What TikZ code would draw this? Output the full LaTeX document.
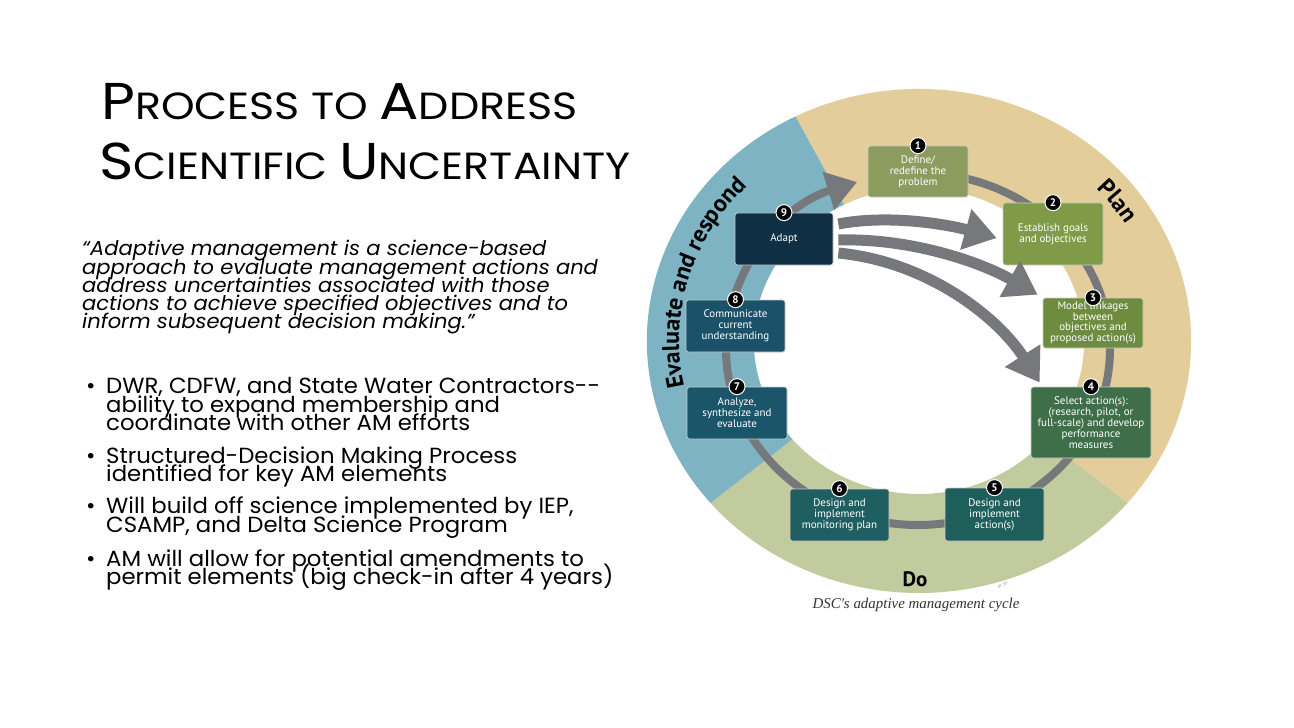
\documentclass[tikz,border=0pt]{standalone}
\usepackage{fontspec}
\setmainfont{Poppins}[FakeStretch=1.04]
\newfontfamily\titlefont{Poppins}[FakeStretch=1.13]
\newfontfamily\boxfont{PT Sans}
\newfontfamily\capfont{Liberation Serif}
\usetikzlibrary{arrows.meta,decorations.text}

\definecolor{plantan}{HTML}{E3CE9B}
\definecolor{evalblue}{HTML}{7DB3C3}
\definecolor{dogreen}{HTML}{C2CB9D}
\definecolor{ringgray}{HTML}{77787B}
\definecolor{boxa}{HTML}{8C9B5E}
\definecolor{boxb}{HTML}{7F9B48}
\definecolor{boxc}{HTML}{6E8C3F}
\definecolor{boxd}{HTML}{3E6F49}
\definecolor{boxe}{HTML}{1F5F5B}
\definecolor{boxf}{HTML}{1F5E61}
\definecolor{boxg}{HTML}{1A5569}
\definecolor{boxh}{HTML}{1B526A}
\definecolor{boxi}{HTML}{0E2F44}

\newcommand\scword[2]{{\fontsize{52}{52}\selectfont #1}{\fontsize{38}{38}\selectfont #2}}
\newcommand\ringlabel{\boxfont\bfseries\fontsize{24}{24}\selectfont}

\tikzset{
  stepbox/.style={draw=white!80!black, line width=0.7bp, rounded corners=2.5bp, text=white,
    align=center, inner sep=0pt, font=\boxfont\fontsize{11}{11}\selectfont},
  badge/.style={circle, fill=black, draw=white, line width=1bp, minimum size=16bp, inner sep=0pt,
    text=white, font=\boxfont\bfseries\fontsize{11}{11}\selectfont},
  ringline/.style={draw=ringgray, line width=8bp, -{Triangle[length=30bp,width=38bp]}},
  bigarrow/.style={draw=ringgray, line width=11bp, -{Triangle[length=32bp,width=40bp]}},
  bodyline/.style={anchor=base west, inner sep=0pt, font=\fontsize{22}{22}\selectfont},
  quoteline/.style={anchor=base west, inner sep=0pt, font=\itshape\fontsize{20.3}{20.3}\selectfont},
  titleline/.style={anchor=base west, inner sep=0pt, font=\titlefont\fontsize{38}{38}\selectfont},
}

\begin{document}
\begin{tikzpicture}[x=1bp, y=1bp]
  \useasboundingbox[fill=white] (0,0) rectangle (1294,-728);

  % title and text
  \node[titleline] (title1) at (101,-120) {\scword{P}{ROCESS} \scword{}{TO} \scword{A}{DDRESS}};
  \node[titleline] (title2) at (99,-180) {\scword{S}{CIENTIFIC} \scword{U}{NCERTAINTY}};

  \node[quoteline] (q1) at (82,-256) {“Adaptive management is a science-based};
  \node[quoteline] (q2) at (82,-274) {approach to evaluate management actions and};
  \node[quoteline] (q3) at (82,-292) {address uncertainties associated with those};
  \node[quoteline] (q4) at (82,-310) {actions to achieve specified objectives and to};
  \node[quoteline] (q5) at (82,-328) {inform subsequent decision making.”};

  \node[bodyline] (d1) at (86,-393) {•};
  \node[bodyline] (p1a) at (106,-393) {DWR, CDFW, and State Water Contractors-{}-};
  \node[bodyline] (p1b) at (106,-412) {ability to expand membership and};
  \node[bodyline] (p1c) at (106,-430) {coordinate with other AM efforts};
  \node[bodyline] (d2) at (86,-463) {•};
  \node[bodyline] (p2a) at (106,-463) {Structured-Decision Making Process};
  \node[bodyline] (p2b) at (106,-481) {identified for key AM elements};
  \node[bodyline] (d3) at (86,-513) {•};
  \node[bodyline] (p3a) at (106,-513) {Will build off science implemented by IEP,};
  \node[bodyline] (p3b) at (106,-532) {CSAMP, and Delta Science Program};
  \node[bodyline] (d4) at (86,-566) {•};
  \node[bodyline] (p4a) at (106,-566) {AM will allow for potential amendments to};
  \node[bodyline] (p4b) at (106,-584) {permit elements (big check-in after 4 years)};

  % ring of the cycle
  \begin{scope}[shift={(919,-341)}, xscale=1.08]
    \fill[plantan] (117:252) arc[start angle=117, end angle=-40, radius=252]
      -- (-40:153) arc[start angle=-40, end angle=117, radius=153] -- cycle;
    \fill[dogreen] (-40:252) arc[start angle=-40, end angle=-140, radius=252]
      -- (-140:153) arc[start angle=-140, end angle=-40, radius=153] -- cycle;
    \fill[evalblue] (220:252) arc[start angle=220, end angle=117, radius=252]
      -- (117:153) arc[start angle=117, end angle=220, radius=153] -- cycle;
  \end{scope}
  \draw[ringline] (918,-349) ++(90:192 and 176) arc[start angle=90, end angle=-251.5, x radius=192, y radius=176];

  % steps
  \node[stepbox, fill=boxa, minimum width=100bp, minimum height=51bp] (define) at (918,-171.5) {Define/\\redefine the\\problem};
  \node[stepbox, fill=boxb, minimum width=100bp, minimum height=62bp] (goals) at (1053,-234) {Establish goals\\and objectives};
  \node[stepbox, fill=boxc, minimum width=100bp, minimum height=50bp, font=\boxfont\fontsize{11}{10}\selectfont] (model) at (1093,-323) {Model linkages\\between\\objectives and\\proposed action(s)};
  \node[stepbox, fill=boxd, minimum width=120bp, minimum height=71bp] (select) at (1091,-422.5) {Select action(s):\\(research, pilot, or\\full-scale) and develop\\performance\\measures};
  \node[stepbox, fill=boxe, minimum width=99bp, minimum height=53bp] (act) at (994.5,-514.5) {Design and\\implement\\action(s)};
  \node[stepbox, fill=boxf, minimum width=99bp, minimum height=52bp] (monitor) at (839.5,-515) {Design and\\implement\\monitoring plan};
  \node[stepbox, fill=boxg, minimum width=100bp, minimum height=52bp] (analyze) at (737,-413) {Analyze,\\synthesize and\\evaluate};
  \node[stepbox, fill=boxh, minimum width=99bp, minimum height=52bp] (communicate) at (735.5,-326) {Communicate\\current\\understanding};
  \node[stepbox, fill=boxi, minimum width=98bp, minimum height=52bp] (adapt) at (784,-239) {Adapt};

  \node[badge] (n1) at (define.north) {1};
  \node[badge] (n2) at (goals.north) {2};
  \node[badge] (n3) at (model.north) {3};
  \node[badge] (n4) at (select.north) {4};
  \node[badge] (n5) at (act.north) {5};
  \node[badge] (n6) at (monitor.north) {6};
  \node[badge] (n7) at (analyze.north) {7};
  \node[badge] (n8) at (communicate.north) {8};
  \node[badge] (n9) at (adapt.north) {9};

  % adapt feeds back
  \draw[bigarrow] ([xshift=5bp,yshift=15bp]adapt.east) .. controls +(52,10) and +(-47,13) .. ([xshift=-6bp,yshift=-4bp]goals.west);
  \draw[bigarrow] ([xshift=5bp,yshift=-1bp]adapt.east) .. controls +(72,2) and +(-58,33) .. ([xshift=-5bp,yshift=3bp]model.north west);
  \draw[bigarrow] ([xshift=5bp,yshift=-14bp]adapt.east) .. controls +(92,-9) and +(-40,63) .. ([xshift=9bp,yshift=4bp]select.north west);

  % phase labels
  \path[decorate, decoration={text along path, text align=center, text={|\ringlabel|Evaluate and respond}}]
    (919,-341) ++(202:240 and 222) arc[start angle=202, end angle=126, x radius=240, y radius=222];
  \path[decorate, decoration={text along path, text align=center, text={|\ringlabel|Plan}}]
    (919,-341) ++(50:242 and 224) arc[start angle=50, end angle=24, x radius=242, y radius=224];
  \node[font=\boxfont\bfseries\fontsize{21}{21}\selectfont] (do) at (915,-579) {Do};
  \node[font=\boxfont\fontsize{3.5}{4}\selectfont, text=gray, rotate=25] (code) at (1003,-585) {GP\_107};
  \node[font=\capfont\itshape\fontsize{15}{15}\selectfont, text=black!80] (caption) at (916,-605) {DSC's adaptive management cycle};
\end{tikzpicture}
\end{document}
